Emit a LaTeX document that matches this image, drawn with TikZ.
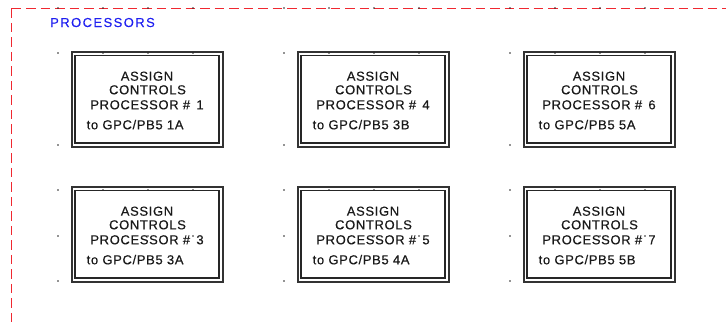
\documentclass[tikz,border=0pt]{standalone}
\usepackage{fontspec}
\setmainfont{Liberation Sans}
\newfontfamily\boxfont[LetterSpace=5,FakeBold=0.4]{Liberation Sans}
\newfontfamily\titfont[LetterSpace=11,FakeBold=0.3]{Liberation Sans}
\definecolor{framered}{HTML}{F02830}
\definecolor{ttlblue}{HTML}{2020F0}
\begin{document}
\begin{tikzpicture}[x=1pt,y=-1pt,
  procbox/.style={draw=black!80, line width=2pt, minimum width=151pt, minimum height=94.5pt, inner sep=0pt, anchor=north west},
  inbox/.style={draw=black!85, line width=1.4pt},
  ptext/.style={font=\boxfont\fontsize{13}{14}\selectfont, text=black!90, anchor=base, inner sep=0pt},
  ltext/.style={font=\boxfont\fontsize{13}{14}\selectfont, text=black!90, anchor=base west, inner sep=0pt},
  ttl/.style={font=\titfont\fontsize{13}{14}\selectfont, text=ttlblue, anchor=base west, inner sep=0pt},
  framelin/.style={draw=framered, line width=1.6pt, dash pattern=on 9.5pt off 5pt},
  griddot/.style={fill=black!85}
]
\useasboundingbox (0,0) rectangle (726,322);
% frame
\coordinate (fc) at (11.5,8.3);
\coordinate (fr) at (726,8.3);
\coordinate (fb) at (11.5,322);
\draw[framelin] (fc) -- (fr);
\draw[framelin] (fc) -- (fb);
\node[ttl] (title) at (50,27) {PROCESSORS};
% boxes
\foreach \n/\c/\r/\t in {1/0/0/1A, 4/1/0/3B, 6/2/0/5A, 3/0/1/3A, 5/1/1/4A, 7/2/1/5B}{
  \pgfmathsetmacro{\bx}{70.5+226*\c}
  \pgfmathsetmacro{\by}{51+135*\r}
  \node[procbox] (b\n) at (\bx,\by) {};
  \draw[inbox] ([shift={(4.5,4.5)}]b\n.north west) rectangle ([shift={(-4.5,-4.5)}]b\n.south east);
  \node[ptext] (a\n) at (\bx+76.5,\by+29.7) {ASSIGN};
  \node[ptext] (c\n) at (\bx+77,\by+43.3) {CONTROLS};
  \node[ptext] (p\n) at (\bx+76.5,\by+58.3) {PROCESSOR \#\hspace{2pt} \n};
  \node[ltext] (g\n) at (\bx+16,\by+78.3) {to GPC/PB5 \t};
}
% grid dots
\foreach \c in {0,1,2}{
  \pgfmathsetmacro{\gx}{58+226*\c}
  \foreach \k in {0,1,2,3}{
    \foreach \yy in {8,53,190}{
      \fill[griddot] (\gx+45*\k,\yy) circle (0.8);
    }
  }
  \foreach \yy in {145,236,281}{
    \fill[griddot] (\gx,\yy) circle (0.8);
  }
  \fill[griddot] (\gx+90,236) circle (0.8);
  \fill[griddot] (\gx+135,236) circle (0.8);
}
\end{tikzpicture}
\end{document}
